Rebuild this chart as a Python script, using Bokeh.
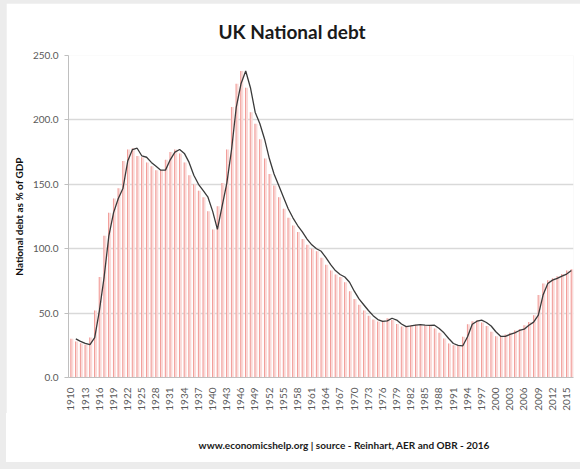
from math import pi
from bokeh.plotting import figure
from bokeh.models import ColumnDataSource, Range1d, FixedTicker, NumeralTickFormatter, Title, Div
from bokeh.transform import dodge
from bokeh.layouts import column
from bokeh.embed import file_html
from bokeh.resources import INLINE

# ---- data ----
years = list(range(1910, 2017))
debt = [
    30, 28, 26.5, 25.5, 31, 52, 78, 110, 128, 139,            # 1910-1919
    147, 168, 177, 178, 172, 171, 167, 164, 161, 161,         # 1920-1929
    169, 175, 177, 174, 167, 157, 150, 145, 140, 129,         # 1930-1939
    115, 133, 151, 177, 210, 228, 238, 225, 206, 197,         # 1940-1949
    185, 170, 158, 149, 140, 131, 124, 118, 113, 107.5,       # 1950-1959
    103, 100, 98, 93, 87.6, 83, 80, 78, 74, 67,               # 1960-1969
    61, 56.5, 52, 48, 45, 43.5, 44, 46, 44.6, 41.5,           # 1970-1979
    39.5, 40, 40.6, 41, 40.6, 40.4, 40.6, 38, 34.7, 30.3,     # 1980-1989
    26.4, 25, 24.6, 31.6, 41.4, 43.7, 44.5, 42.7, 40, 35.5,   # 1990-1999
    32, 32, 33.4, 34.7, 36.5, 37.5, 40.6, 43, 48.4, 64,       # 2000-2009
    73, 75.6, 77, 78.7, 80.3, 83, 84,                         # 2010-2016
]
x_ticks = [1910, 1913, 1916, 1919, 1922, 1925, 1928, 1931, 1934, 1937, 1940, 1943,
           1946, 1949, 1952, 1955, 1958, 1961, 1964, 1967, 1970, 1973, 1976, 1979,
           1982, 1985, 1988, 1991, 1994, 1997, 2000, 2003, 2006, 2009, 2012, 2015]
y_ticks = [0, 50, 100, 150, 200, 250]
title_text = "UK National debt"
y_label = "National debt as % of GDP"
footer_text = "www.economicshelp.org | source - Reinhart, AER and OBR - 2016"

FONT = "Lato"

bar_src = ColumnDataSource(dict(year=years, debt=debt))
line_src = ColumnDataSource(dict(year=years[:-1], debt=debt[:-1]))

p = figure(width=574, height=410,
           x_range=Range1d(1909.5, 2016.5), y_range=Range1d(0, 250),
           output_backend="svg", toolbar_location=None,
           min_border_left=62, min_border_right=7,
           min_border_top=52, min_border_bottom=36,
           margin=(3, 0, 0, 6))
p.background_fill_color = "white"
p.border_fill_color = "white"
p.outline_line_color = None

# bars: pale pink body with a thin red stripe
p.vbar(x=dodge("year", 0.22), top="debt", width=0.62, source=bar_src,
       fill_color="#fadad8", line_color=None)
p.vbar(x="year", top="debt", width=0.15, source=bar_src,
       fill_color="#ee8580", line_color=None)
# trend line
p.line(x=dodge("year", 1.05), y="debt", source=line_src,
       line_color="#3a3a3a", line_width=1.3)

# x axis
p.xaxis.ticker = FixedTicker(ticks=x_ticks)
p.xaxis.major_label_orientation = pi / 2
p.xaxis.major_tick_line_color = None
p.xaxis.minor_tick_line_color = None
p.xaxis.axis_line_color = "#bfbfbf"
p.xaxis.major_label_text_font = FONT
p.xaxis.major_label_text_font_size = "10px"
p.xaxis.major_label_text_color = "#595959"
p.xaxis.major_label_standoff = 4

# y axis
p.yaxis.ticker = FixedTicker(ticks=y_ticks)
p.yaxis.formatter = NumeralTickFormatter(format="0.0")
p.yaxis.axis_line_color = "#bfbfbf"
p.yaxis.major_tick_line_color = "#bfbfbf"
p.yaxis.major_tick_out = 4
p.yaxis.major_tick_in = 0
p.yaxis.minor_tick_line_color = None
p.yaxis.major_label_text_font = FONT
p.yaxis.major_label_text_font_size = "10px"
p.yaxis.major_label_text_color = "#595959"
p.yaxis.major_label_standoff = 6
p.yaxis.axis_label = y_label
p.yaxis.axis_label_text_font = FONT
p.yaxis.axis_label_text_font_style = "bold"
p.yaxis.axis_label_text_font_size = "10px"
p.yaxis.axis_label_text_color = "#111111"
p.yaxis.axis_label_standoff = 5

p.xgrid.visible = False
p.ygrid.grid_line_color = "#d9d9d9"
p.ygrid.grid_line_width = 1.5

p.add_layout(Title(text=title_text, align="left", offset=150, standoff=26,
                   text_font=FONT, text_font_style="bold", text_font_size="19px",
                   text_color="#1a1a1a"), "above")

footer = Div(text=footer_text, width=574, height=49, margin=(0, 0, 7, 6),
             styles={"background-color": "white", "font-family": FONT,
                     "font-weight": "bold", "font-size": "10px", "color": "#1a1a1a",
                     "text-align": "center", "box-sizing": "border-box",
                     "padding-left": "102px", "padding-top": "26px",
                     "line-height": "12px"})

layout = column(p, footer, spacing=0, styles={"background-color": "#ececec"})

with open("out.html", "w") as f:
    f.write(file_html(layout, INLINE))
